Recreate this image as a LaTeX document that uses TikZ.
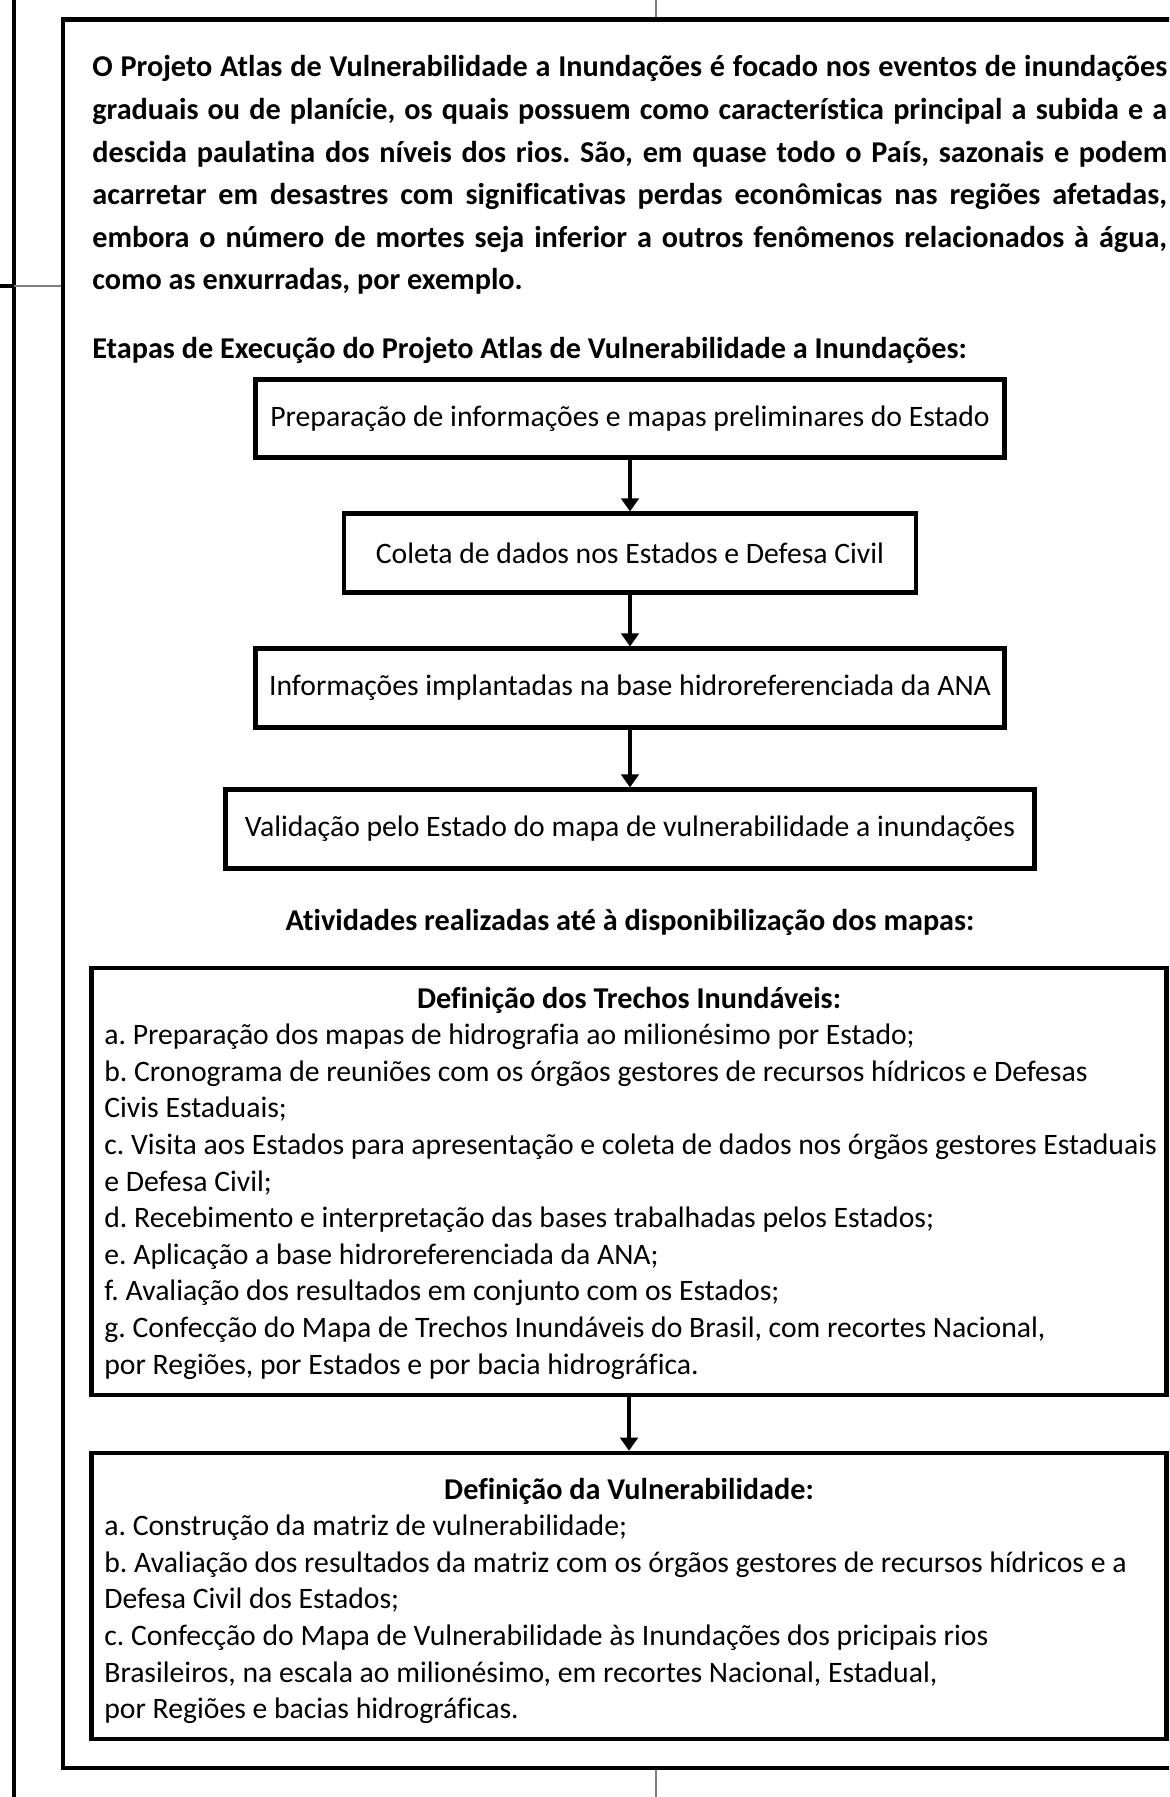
\documentclass[tikz,border=0pt]{standalone}
\usepackage{fontspec}
\setmainfont{Carlito}[Ligatures=NoCommon]
\usetikzlibrary{arrows.meta}
\begin{document}
\frenchspacing
\begin{tikzpicture}[x=0.02cm,y=-0.02cm,
  frame/.style={line width=2.6pt},
  flowbox/.style={draw, line width=2.6pt, minimum height=1.57cm, inner sep=0pt,
    font=\fontsize{16.9}{20.8}\selectfont},
  bigbox/.style={draw, line width=2.6pt, minimum width=21.5cm, inner sep=0pt},
  txt/.style={anchor=base west, inner sep=0pt, font=\fontsize{16.9}{20.8}\selectfont},
  btxt/.style={anchor=base west, inner sep=0pt, font=\fontsize{17.2}{24.2}\selectfont\bfseries},
  flow/.style={line width=2.3pt, -{Triangle[length=7.5pt,width=10pt]}},
  crop/.style={line width=0.6pt, gray}
]
\useasboundingbox (0,0) rectangle (1169,1797);
\clip (0,0) rectangle (1169,1797);
% crop marks
\draw[line width=2.3pt] (14,0) -- (14,1797);
\draw[crop] (0,286) -- (63,286);
\draw[line width=2.3pt] (0,286) -- (14,286);
\draw[crop] (656,0) -- (656,19);
\draw[crop] (656,1768) -- (656,1797);
% outer frame
\draw[frame] (63,19.5) rectangle (1250,1768);
% paragraph
\node[btxt] (p1) at (92,77) {\makebox[21.5cm][s]{O Projeto Atlas de Vulnerabilidade a Inundações é focado nos eventos de inundações}};
\node[btxt] (p2) at (92,119.6) {\makebox[21.5cm][s]{graduais ou de planície, os quais possuem como característica principal a subida e a}};
\node[btxt] (p3) at (92,162.2) {\makebox[21.5cm][s]{descida paulatina dos níveis dos rios. São, em quase todo o País, sazonais e podem}};
\node[btxt] (p4) at (92,204.8) {\makebox[21.5cm][s]{acarretar em desastres com significativas perdas econômicas nas regiões afetadas,}};
\node[btxt] (p5) at (92,247.4) {\makebox[21.5cm][s]{embora o número de mortes seja inferior a outros fenômenos relacionados à água,}};
\node[btxt] (p6) at (92,290) {como as enxurradas, por exemplo.};
\node[btxt] (etapas) at (92,359) {Etapas de Execução do Projeto Atlas de Vulnerabilidade a Inundações:};
% flow boxes
\node[flowbox, minimum width=14.98cm] (b1) at (630,418.5) {Preparação de informações e mapas preliminares do Estado};
\node[flowbox, minimum width=11.44cm] (b2) at (630,553) {Coleta de dados nos Estados e Defesa Civil};
\node[flowbox, minimum width=14.98cm] (b3) at (630,688) {Informações implantadas na base hidroreferenciada da ANA};
\node[flowbox, minimum width=16.18cm] (b4) at (630,829) {Validação pelo Estado do mapa de vulnerabilidade a inundações};
\draw[flow] (b1) -- (b2);
\draw[flow] (b2) -- (b3);
\draw[flow] (b3) -- (b4);
\node[btxt, anchor=base] (ativ) at (630,930) {Atividades realizadas até à disponibilização dos mapas:};
% big boxes
\node[bigbox, minimum height=8.54cm] (bb1) at (629,1181.5) {};
\node[bigbox, minimum height=5.72cm] (bb2) at (629,1596) {};
\draw[flow] (bb1) -- (bb2);
% box 1 text
\node[btxt, anchor=base] (t1) at (629,1008) {Definição dos Trechos Inundáveis:};
\node[txt] (t1a) at (104,1044.6) {a. Preparação dos mapas de hidrografia ao milionésimo por Estado;};
\node[txt] (t1b) at (104,1081.2) {b. Cronograma de reuniões com os órgãos gestores de recursos hídricos e Defesas};
\node[txt] (t1b2) at (104,1117.8) {Civis Estaduais;};
\node[txt] (t1c) at (104,1154.4) {c. Visita aos Estados para apresentação e coleta de dados nos órgãos gestores Estaduais};
\node[txt] (t1c2) at (104,1191) {e Defesa Civil;};
\node[txt] (t1d) at (104,1227.6) {d. Recebimento e interpretação das bases trabalhadas pelos Estados;};
\node[txt] (t1e) at (104,1264.2) {e. Aplicação a base hidroreferenciada da ANA;};
\node[txt] (t1f) at (104,1300.8) {f. Avaliação dos resultados em conjunto com os Estados;};
\node[txt] (t1g) at (104,1337.4) {g. Confecção do Mapa de Trechos Inundáveis do Brasil, com recortes Nacional,};
\node[txt] (t1g2) at (104,1374) {por Regiões, por Estados e por bacia hidrográfica.};
% box 2 text
\node[btxt, anchor=base] (t2) at (629,1499) {Definição da Vulnerabilidade:};
\node[txt] (t2a) at (104,1535.6) {a. Construção da matriz de vulnerabilidade;};
\node[txt] (t2b) at (104,1572.2) {b. Avaliação dos resultados da matriz com os órgãos gestores de recursos hídricos e a};
\node[txt] (t2b2) at (104,1608.8) {Defesa Civil dos Estados;};
\node[txt] (t2c) at (104,1645.4) {c. Confecção do Mapa de Vulnerabilidade às Inundações dos pricipais rios};
\node[txt] (t2c2) at (104,1682) {Brasileiros, na escala ao milionésimo, em recortes Nacional, Estadual,};
\node[txt] (t2c3) at (104,1718.6) {por Regiões e bacias hidrográficas.};
\end{tikzpicture}
\end{document}
